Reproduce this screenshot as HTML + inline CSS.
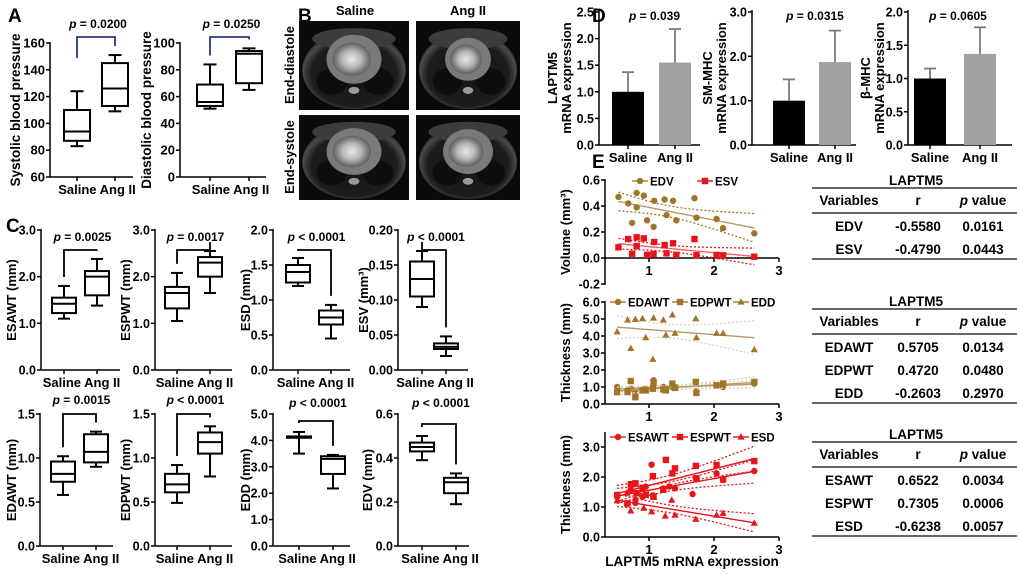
<!DOCTYPE html>
<html><head><meta charset="utf-8"><style>
html,body{margin:0;padding:0;background:#fff;}
svg{display:block;font-family:"Liberation Sans",Arial,sans-serif;font-weight:bold;}
</style></head><body>
<svg id="fig" width="1020" height="574" viewBox="0 0 1020 574" xmlns="http://www.w3.org/2000/svg">
<defs>
<radialGradient id="heartA" cx="50%" cy="50%" r="50%"><stop offset="0" stop-color="#e8e8e8"/><stop offset="0.5" stop-color="#b8b8b8"/><stop offset="0.8" stop-color="#808080"/><stop offset="1" stop-color="#606060"/></radialGradient>
<radialGradient id="body" cx="50%" cy="55%" r="55%"><stop offset="0" stop-color="#151515"/><stop offset="0.75" stop-color="#1c1c1c"/><stop offset="0.9" stop-color="#4a4a4a"/><stop offset="1" stop-color="#1a1a1a"/></radialGradient>
</defs>
</svg>
<script>
// ===== Panel A data (min,q1,median,q3,max) =====
const sbpSaline=[83,87,94,110,124];
const sbpAng=[109,113,126,145,151];
const dbpSaline=[51,53,56,69,84];
const dbpAng=[65,70,92,94,96];
// ===== Panel C data =====
const esawtSaline=[1.1,1.22,1.42,1.55,1.8];
const esawtAng=[1.38,1.6,2.0,2.12,2.38];
const espwtSaline=[1.05,1.32,1.65,1.78,2.08];
const espwtAng=[1.65,2.0,2.3,2.42,2.55];
const esdSaline=[1.2,1.25,1.4,1.5,1.6];
const esdAng=[0.45,0.65,0.75,0.85,0.93];
const esvSaline=[0.09,0.105,0.13,0.155,0.17];
const esvAng=[0.02,0.03,0.033,0.038,0.048];
const edawtSaline=[0.58,0.73,0.82,0.96,1.02];
const edawtAng=[0.9,0.95,1.07,1.27,1.3];
const edpwtSaline=[0.49,0.61,0.7,0.82,0.92];
const edpwtAng=[0.79,1.05,1.18,1.29,1.36];
const eddSaline=[3.5,4.1,4.15,4.15,4.32];
const eddAng=[2.18,2.73,3.3,3.4,3.45];
const edvSaline=[0.39,0.43,0.45,0.47,0.5];
const edvAng=[0.19,0.24,0.29,0.31,0.33];
// ===== Panel D data =====
const groups=["Saline","Ang II"];
const laptm5Mean=[1.0,1.55];
const laptm5Err=[0.37,0.63];
const smmhcMean=[1.0,1.87];
const smmhcErr=[0.48,0.71];
const bmhcMean=[1.0,1.37];
const bmhcErr=[0.15,0.40];
// ===== Panel E data =====
const eX=[0.53,0.68,0.74,0.81,0.81,0.92,0.97,1.07,1.08,1.24,1.27,1.37,1.42,1.70,1.73,2.04,2.14,2.62];
const edvY=[0.47,0.42,0.27,0.50,0.39,0.48,0.29,0.24,0.44,0.45,0.33,0.44,0.29,0.46,0.31,0.30,0.23,0.19];
const esvY=[0.082,0.146,0.033,0.159,0.092,0.151,0.025,0.031,0.123,0.10,0.036,0.113,0.025,0.146,0.021,0.023,0.021,0.01];
const tX=[0.51,0.67,0.72,0.79,0.90,0.95,1.06,1.07,1.22,1.26,1.36,1.40,1.72,1.73,2.04,2.14,2.62];
const eddY=[4.25,4.94,3.27,4.98,5.02,3.9,2.63,5.06,4.94,4.06,5.24,4.16,5.02,3.9,4.16,4.16,3.2];
const edawtY=[1.0,0.8,0.9,0.7,0.85,0.9,0.95,1.4,1.0,0.95,1.0,1.0,1.3,0.75,1.1,1.0,1.2];
const edpwtY=[0.7,0.7,1.35,0.4,0.8,0.8,0.9,1.25,0.85,0.8,1.2,0.95,1.3,0.65,1.1,1.2,1.3];
const sX=[0.51,0.66,0.72,0.77,0.79,0.90,0.95,1.04,1.06,1.22,1.31,1.40,1.67,1.72,2.04,2.14,2.62];
const esawtY=[1.34,1.09,1.57,1.76,1.14,1.34,1.68,2.41,1.39,1.62,1.68,1.62,1.43,1.96,2.12,1.9,2.2];
const spX=[0.51,0.67,0.72,0.79,0.81,0.90,0.95,1.06,1.07,1.22,1.26,1.36,1.40,1.72,1.73,2.04,2.14,2.62];
const espwtY=[1.4,1.12,1.76,1.79,1.46,1.64,1.4,2.03,1.34,1.57,2.57,2.12,2.29,2.37,1.96,2.4,1.92,2.53];
const sdX=[0.51,0.66,0.72,0.79,0.92,1.04,1.07,1.25,1.35,1.40,1.72,2.04,2.14,2.62];
const esdY=[1.21,1.46,0.87,1.29,0.96,0.84,1.34,0.7,1.23,0.73,0.59,0.73,0.79,0.46];
// ===== Tables =====
const t1Vars=["EDV","ESV"], t1R=["-0.5580","-0.4790"], t1P=["0.0161","0.0443"];
const t2Vars=["EDAWT","EDPWT","EDD"], t2R=["0.5705","0.4720","-0.2603"], t2P=["0.0134","0.0480","0.2970"];
const t3Vars=["ESAWT","ESPWT","ESD"], t3R=["0.6522","0.7305","-0.6238"], t3P=["0.0034","0.0006","0.0057"];

const NS="http://www.w3.org/2000/svg";
const svg=document.getElementById('fig');
function add(tag,attrs,name,parent){
  const el=document.createElementNS(NS,tag);
  for(const k in attrs) el.setAttribute(k,attrs[k]);
  
  
  (parent||svg).appendChild(el);
  return el;
}
function txt(x,y,s,size,anchor,name,rot,fill){
  const a={x:x,y:y,'font-size':size,'text-anchor':anchor||'middle',fill:fill||'#000'};
  if(rot) a.transform='rotate('+rot+' '+x+' '+y+')';
  const t=add('text',a,name);
  t.textContent=s;
  return t;
}
function ptxt(x,y,rest,size,name){
  const t=add('text',{x:x,y:y,'font-size':size,'text-anchor':'middle'},name);
  const i=document.createElementNS(NS,'tspan');i.setAttribute('font-style','italic');i.textContent='p';
  t.appendChild(i);t.appendChild(document.createTextNode(rest));
  return t;
}
function line(x1,y1,x2,y2,name,stroke,w,dash,parent){
  const a={x1:x1,y1:y1,x2:x2,y2:y2,stroke:stroke||'#000','stroke-width':w||1.5};
  if(dash)a['stroke-dasharray']=dash;
  return add('line',a,name,parent);
}

// panel letters
txt(8,22,'A',19,'start','panel-label-a');
txt(298,22,'B',19,'start','panel-label-b');
txt(6,232,'C',19,'start','panel-label-c');
txt(592,22,'D',19,'start','panel-label-d');
txt(592,168,'E',19,'start','panel-label-e');

// ===== box plot panel =====
function boxPanel(c){
  const sy=v=>c.yBot-(v-c.vmin)/(c.vmax-c.vmin)*(c.yBot-c.yTop);
  line(c.ax,c.yTop-1,c.ax,c.yBot,c.id+'-y-axis','#000',1.5);
  line(c.ax,c.yBot,c.end,c.yBot,c.id+'-x-axis','#000',1.5);
  for(let v=c.vmin;v<=c.vmax+1e-9;v+=c.step){
    const y=sy(v);
    line(c.ax-4,y,c.ax,y,c.id+'-y-tick','#000',1.5);
    txt(c.ax-5,y+4.5,v.toFixed(c.dec),c.fs||12.5,'end',c.id+'-y-tick-label');
  }
  txt(c.lx,(c.yTop+c.yBot)/2,c.ylabel,c.lfs||13,'middle',c.id+'-y-axis-title',-90);
  const series=[c.a,c.b];
  const bw=c.bw||24;
  series.forEach((d,i)=>{
    const x=c.xs[i];
    const g=add('g',{},c.id+'-box-'+(i?'ang':'saline'));
    line(x,sy(d[0]),x,sy(d[1]),c.id+'-whisker-low','#000',2,null,g);
    line(x,sy(d[3]),x,sy(d[4]),c.id+'-whisker-high','#000',2,null,g);
    line(x-bw/4,sy(d[0]),x+bw/4,sy(d[0]),c.id+'-cap-low','#000',2,null,g);
    line(x-bw/4,sy(d[4]),x+bw/4,sy(d[4]),c.id+'-cap-high','#000',2,null,g);
    add('rect',{x:x-bw/2,y:sy(d[3]),width:bw,height:Math.max(0.5,sy(d[1])-sy(d[3])),fill:'#fff',stroke:'#000','stroke-width':2},c.id+'-box',g);
    line(x-bw/2,sy(d[2]),x+bw/2,sy(d[2]),c.id+'-median','#000',2,null,g);
    line(x,c.yBot,x,c.yBot+4,c.id+'-x-tick','#000',1.5);
  });
  txt((c.xs[0]+c.xs[1])/2+1,c.yBot+17,'Saline Ang II',c.xfs||13,'middle',c.id+'-x-labels');
  const bc=c.bcol||'#000';
  add('polyline',{points:[c.xs[0],Math.min(sy(c.a[4])-9,c.ly0||1e9),c.xs[0],c.by,c.xs[1],c.by,c.xs[1],sy(c.b[4])-9].join(' '),fill:'none',stroke:bc,'stroke-width':1.8},c.id+'-significance-bracket');
  ptxt((c.xs[0]+c.xs[1])/2+2,c.py,c.p,c.pfs||12,c.id+'-p-value');
}
boxPanel({id:'sbp',ax:50,yTop:43,yBot:177,vmin:60,vmax:160,step:20,dec:0,xs:[77,115],end:133,a:sbpSaline,b:sbpAng,ylabel:'Systolic blood pressure',lx:20,by:37,py:28,p:' = 0.0200',bcol:'#2b3584',bw:26,lfs:13.5,fs:13,ly0:58});
boxPanel({id:'dbp',ax:180,yTop:43,yBot:177,vmin:0,vmax:100,step:20,dec:0,xs:[210,249],end:266,a:dbpSaline,b:dbpAng,ylabel:'Diastolic blood pressure',lx:151,by:37,py:28,p:' = 0.0250',bcol:'#2b3584',bw:26,lfs:13.5,fs:13,ly0:58});
boxPanel({id:'esawt',ax:41,yTop:230,yBot:370,vmin:0,vmax:3,step:1,dec:1,xs:[64,97],end:120,a:esawtSaline,b:esawtAng,ylabel:'ESAWT (mm)',lx:16,by:250,py:241,p:' = 0.0025'});
boxPanel({id:'espwt',ax:155,yTop:230,yBot:370,vmin:0,vmax:3,step:1,dec:1,xs:[177,210],end:232,a:espwtSaline,b:espwtAng,ylabel:'ESPWT (mm)',lx:130,by:250,py:241,p:' = 0.0017'});
boxPanel({id:'esd',ax:273,yTop:230,yBot:370,vmin:0,vmax:2,step:0.5,dec:1,xs:[298,331],end:350,a:esdSaline,b:esdAng,ylabel:'ESD (mm)',lx:250,by:250,py:241,p:' < 0.0001'});
boxPanel({id:'esv',ax:398,yTop:230,yBot:370,vmin:0,vmax:0.2,step:0.05,dec:2,xs:[422,446],end:468,a:esvSaline,b:esvAng,ylabel:'ESV (mm³)',lx:368,by:250,py:241,p:' < 0.0001'});
boxPanel({id:'edawt',ax:40,yTop:414,yBot:546,vmin:0,vmax:1.5,step:0.5,dec:1,xs:[63,96],end:113,a:edawtSaline,b:edawtAng,ylabel:'EDAWT (mm)',lx:16,by:414,py:404,p:' = 0.0015'});
boxPanel({id:'edpwt',ax:155,yTop:414,yBot:546,vmin:0,vmax:1.5,step:0.5,dec:1,xs:[177,210],end:232,a:edpwtSaline,b:edpwtAng,ylabel:'EDPWT (mm)',lx:130,by:414,py:404,p:' < 0.0001'});
boxPanel({id:'edd',ax:273,yTop:414,yBot:546,vmin:0,vmax:5,step:1,dec:1,xs:[299,333],end:350,a:eddSaline,b:eddAng,ylabel:'EDD (mm)',lx:250,by:421,py:407,p:' < 0.0001'});
boxPanel({id:'edv',ax:398,yTop:414,yBot:546,vmin:0,vmax:0.6,step:0.2,dec:1,xs:[422,456],end:469,a:edvSaline,b:edvAng,ylabel:'EDV (mm)',lx:372,by:424,py:407,p:' < 0.0001'});

// ===== Panel B: MRI images =====
function mri(x,y,w,h,name,hr){
  const g=add('g',{},name);
  add('rect',{x:x,y:y,width:w,height:h,fill:'#0a0a0a'},name+'-bg',g);
  add('ellipse',{cx:x+w/2,cy:y+h*0.55,rx:w*0.47,ry:h*0.44,fill:'url(#body)'},name+'-chest',g);
  add('ellipse',{cx:x+w/2,cy:y+h*0.2,rx:w*0.38,ry:h*0.12,fill:'#3c3c3c'},name+'-chest-wall',g);
  add('ellipse',{cx:x+w*0.3,cy:y+h*0.68,rx:w*0.14,ry:h*0.15,fill:'#0e0e0e'},name+'-lung-left',g);
  add('ellipse',{cx:x+w*0.72,cy:y+h*0.68,rx:w*0.14,ry:h*0.15,fill:'#0e0e0e'},name+'-lung-right',g);
  add('ellipse',{cx:x+w*0.5,cy:y+h*0.43,rx:w*hr,ry:h*hr*1.1,fill:'#7a7a7a'},name+'-heart',g);
  add('ellipse',{cx:x+w*0.48,cy:y+h*0.43,rx:w*hr*0.7,ry:h*hr*0.75,fill:'url(#heartA)'},name+'-ventricle',g);
  add('ellipse',{cx:x+w*0.5,cy:y+h*0.78,rx:w*0.05,ry:h*0.04,fill:'#999'},name+'-vessel',g);
}
mri(299,21,110,89,'mri-saline-diastole',0.25);
mri(416,21,104,89,'mri-ang-diastole',0.22);
mri(299,115,110,85,'mri-saline-systole',0.25);
mri(416,115,104,85,'mri-ang-systole',0.24);
txt(355,15,'Saline',13,'middle','mri-col-saline');
txt(468,15,'Ang II',13,'middle','mri-col-ang');
txt(294,65,'End-diastole',13,'middle','mri-row-diastole',-90);
txt(294,157,'End-systole',13,'middle','mri-row-systole',-90);

// ===== Panel D bars =====
function barPanel(c){
  const sy=v=>145-v/c.vmax*(145-12);
  line(c.ax,10,c.ax,145,c.id+'-y-axis','#000',1.5);
  line(c.ax,145,c.end,145,c.id+'-x-axis','#000',1.5);
  for(let v=0;v<=c.vmax+1e-9;v+=c.step){
    line(c.ax-4,sy(v),c.ax,sy(v),c.id+'-y-tick','#000',1.5);
    txt(c.ax-5,sy(v)+4.5,v.toFixed(1),12.5,'end',c.id+'-y-tick-label');
  }
  txt(c.l1x,78,c.l1,13,'middle',c.id+'-y-title-1',-90);
  txt(c.l1x+14,78,'mRNA expression',13,'middle',c.id+'-y-title-2',-90);
  c.mean.forEach((m,i)=>{
    const x=c.xs[i];
    const top=sy(m+c.err[i]);
    line(x,sy(m),x,top,c.id+'-error-bar','#7a7a7a',1.8);
    line(x-6,top,x+6,top,c.id+'-error-cap','#7a7a7a',1.8);
    add('rect',{x:x-16,y:sy(m),width:32,height:145-sy(m),fill:i?'#a1a1a4':'#000'},c.id+'-bar-'+(i?'ang':'saline'));
    line(x,145,x,149,c.id+'-x-tick','#000',1.5);
    txt(x,162,groups[i],13,'middle',c.id+'-x-label');
  });
  ptxt((c.xs[0]+c.xs[1])/2+3,20,c.p,12,c.id+'-p-value');
}
barPanel({id:'laptm5',ax:599,end:700,vmax:2.5,step:0.5,xs:[628,675],mean:laptm5Mean,err:laptm5Err,l1:'LAPTM5',l1x:557,p:' = 0.039'});
barPanel({id:'smmhc',ax:752,end:856,vmax:3,step:1,xs:[789,835],mean:smmhcMean,err:smmhcErr,l1:'SM-MHC',l1x:712,p:' = 0.0315'});
barPanel({id:'bmhc',ax:908,end:1012,vmax:2,step:0.5,xs:[930,980],mean:bmhcMean,err:bmhcErr,l1:'β-MHC',l1x:870,p:' = 0.0605'});

// ===== Panel E scatter =====
const ex=v=>584+65*v;
function marker(shape,x,y,col,name){
  if(shape==='c') return add('circle',{cx:x,cy:y,r:3.2,fill:col},name);
  if(shape==='s') return add('rect',{x:x-3.2,y:y-3.2,width:6.4,height:6.4,fill:col},name);
  return add('polygon',{points:[x,y-3.8,x+3.6,y+2.6,x-3.6,y+2.6].join(' '),fill:col},name);
}
function fitSeries(xs,ys,sy,col,lcol,bcol,shape,name){
  const n=xs.length;let mx=0,my=0;xs.forEach((v,i)=>{mx+=v;my+=ys[i];});mx/=n;my/=n;
  let sxx=0,sxy=0;xs.forEach((v,i)=>{sxx+=(v-mx)**2;sxy+=(v-mx)*(ys[i]-my);});
  const b=sxy/sxx,a=my-b*mx;let sse=0;xs.forEach((v,i)=>{sse+=(ys[i]-a-b*v)**2;});
  const s=Math.sqrt(sse/(n-2)),t=2.12;
  const x0=Math.min(...xs),x1=Math.max(...xs);
  const up=[],lo=[];
  for(let k=0;k<=20;k++){const xv=x0+(x1-x0)*k/20;const h=t*s*Math.sqrt(1/n+(xv-mx)**2/sxx);
    up.push(ex(xv)+','+sy(a+b*xv+h));lo.push(ex(xv)+','+sy(a+b*xv-h));}
  add('polyline',{points:up.join(' '),fill:'none',stroke:bcol,'stroke-width':1.3,'stroke-dasharray':'2,2'},name+'-ci-upper');
  add('polyline',{points:lo.join(' '),fill:'none',stroke:bcol,'stroke-width':1.3,'stroke-dasharray':'2,2'},name+'-ci-lower');
  line(ex(x0),sy(a+b*x0),ex(x1),sy(a+b*x1),name+'-fit-line',lcol,1.4);
  xs.forEach((v,i)=>marker(shape,ex(v),sy(ys[i]),col,name+'-point'));
}
function scatterAxes(id,yTop,yAxisTop,yBot,yZero,vmin,vmax,step,dec,title){
  const sy=v=>yZero-(v)*(yZero-yTop)/vmax;
  line(605,yAxisTop,605,yBot,id+'-y-axis','#000',1.5);
  line(605,yZero,779,yZero,id+'-x-axis','#000',1.5);
  for(let v=vmin;v<=vmax+1e-9;v+=step){
    line(601,sy(v),605,sy(v),id+'-y-tick','#000',1.5);
    txt(600,sy(v)+4.5,(Math.abs(v)<1e-9?0:v).toFixed(dec),12.5,'end',id+'-y-tick-label');
  }
  [1,2,3].forEach(v=>{line(ex(v),yZero,ex(v),yZero+4,id+'-x-tick','#000',1.5);txt(ex(v),yZero+17,String(v),13,'middle',id+'-x-tick-label');});
  txt(570,(yAxisTop+yBot)/2,title,13,'middle',id+'-y-axis-title',-90);
  return sy;
}
function legendItem(x,y,shape,col,label,name){
  line(x-8,y,x+8,y,name+'-line',col,1.4);
  marker(shape,x,y,col,name+'-marker');
  txt(x+10,y+4.5,label,11.5,'start',name+'-label');
}
const BR='#a07528', BRL='#b49a68', RED='#e8141c';
const sy1=scatterAxes('volume',180,179,285,258,-0.2,0.6,0.2,1,'Volume (mm³)');
fitSeries(eX,edvY,sy1,BR,BRL,BR,'c','edv');
fitSeries(eX,esvY,sy1,RED,'#f06060',RED,'s','esv');
legendItem(640,181,'c',BR,'EDV','legend-edv');
legendItem(705,181,'s',RED,'ESV','legend-esv');

const sy2=scatterAxes('thickness-ed',302,301,404,404,0,6,1,1,'Thickness (mm)');
fitSeries(tX,eddY,sy2,BR,BRL,'#ddd3bd','t','edd');
fitSeries(tX,edawtY,sy2,BR,BRL,'#ddd3bd','c','edawt');
fitSeries(tX,edpwtY,sy2,BR,BRL,'#ddd3bd','s','edpwt');
legendItem(618,302,'c',BR,'EDAWT','legend-edawt');
legendItem(680,302,'s',BR,'EDPWT','legend-edpwt');
legendItem(741,302,'t',BR,'EDD','legend-edd');

const sy3=scatterAxes('thickness-es',447,432,537,537,0,3,1,1,'Thickness (mm)');
fitSeries(sX,esawtY,sy3,RED,RED,RED,'c','esawt');
fitSeries(spX,espwtY,sy3,RED,RED,RED,'s','espwt');
fitSeries(sdX,esdY,sy3,RED,RED,RED,'t','esd');
legendItem(618,437,'c',RED,'ESAWT','legend-esawt');
legendItem(680,437,'s',RED,'ESPWT','legend-espwt');
legendItem(741,437,'t',RED,'ESD','legend-esd');
txt(692,566,'LAPTM5 mRNA expression',13.5,'middle','x-axis-title');

// ===== Tables =====
function table(id,c,vars,rs,ps){
  txt(916,c+5,'LAPTM5',13.5,'middle',id+'-title');
  line(812,c+8,1017,c+8,id+'-rule-top','#333',1.6);
  txt(849,c+25,'Variables',13.5,'middle',id+'-header-variables');
  txt(918,c+25,'r',13.5,'middle',id+'-header-r');
  ptxt(983,c+25,' value',13.5,id+'-header-p');
  line(812,c+33,1017,c+33,id+'-rule-mid','#333',1.6);
  vars.forEach((v,i)=>{
    const y=c+51+i*23;
    txt(849,y,v,13.5,'middle',id+'-cell-variable');
    txt(918,y,rs[i],13.5,'middle',id+'-cell-r');
    txt(983,y,ps[i],13.5,'middle',id+'-cell-p');
  });
  line(812,c+56+(vars.length-1)*23,1017,c+56+(vars.length-1)*23,id+'-rule-bottom','#333',1.6);
}
table('table-volume',180,t1Vars,t1R,t1P);
table('table-ed',301,t2Vars,t2R,t2P);
table('table-es',434,t3Vars,t3R,t3P);
</script>
</body></html>
